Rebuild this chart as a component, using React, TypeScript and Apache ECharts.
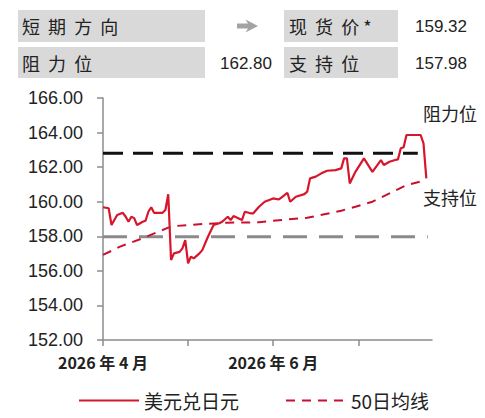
import React, { useEffect, useRef } from "react";
import * as echarts from "echarts";

// day offsets from 2026-04-01
const spotDays = [0, 2, 3, 4, 5, 7, 8, 9, 10, 11, 12, 14, 15, 16, 17, 18, 21, 22, 23, 24, 25, 27, 28, 29, 30, 31, 32, 34, 35, 37, 39, 41, 42, 44, 45, 46, 49, 50, 52, 53, 55, 57, 60, 62, 63, 65, 66, 68, 71, 72, 73, 75, 77, 79, 82, 84, 85, 86, 87, 89, 92, 95, 98, 99, 101, 103, 104, 105, 106, 107, 112, 113, 114];
const spotValues = [159.68, 159.62, 158.65, 158.94, 159.23, 159.36, 159.13, 158.84, 159.13, 159.05, 158.65, 158.84, 158.9, 159.42, 159.68, 159.36, 159.36, 159.52, 160.43, 156.63, 157.01, 157.1, 157.3, 157.78, 156.44, 156.82, 156.72, 157.01, 157.2, 157.97, 158.65, 158.75, 158.84, 159.13, 158.94, 159.17, 158.94, 159.42, 159.33, 159.33, 159.71, 160.0, 160.19, 160.13, 160.25, 160.52, 160.0, 160.29, 160.44, 160.58, 161.35, 161.45, 161.64, 161.79, 161.83, 161.93, 162.51, 162.51, 161.06, 161.73, 162.51, 161.73, 162.41, 162.12, 162.31, 162.41, 162.45, 163.09, 163.15, 163.86, 163.86, 163.38, 161.35];
const maDays = [0, 6, 14, 23, 26, 35, 44, 55, 60, 72, 84, 89, 95, 101, 107, 114];
const maValues = [156.92, 157.4, 157.89, 158.5, 158.6, 158.71, 158.79, 158.81, 158.9, 159.07, 159.48, 159.71, 160.0, 160.48, 160.96, 161.25];
const resistance = 162.8;
const support = 157.98;
const resistanceDays = [0, 111];
const supportDays = [0, 114.5];
const tickLabels: Record<number, string> = { 0: "2026 年 4 月", 60: "2026 年 6 月" };
const seriesNames = ["美元兑日元", "50日均线"];
const tableLabels = ["短  期  方  向", "现  货  价 *", "阻  力  位", "支  持  位"];
const spotText = "159.32";
const resistanceText = "162.80";
const supportText = "157.98";

const CJK = '"Noto Sans CJK SC", "Noto Sans", sans-serif';
const NUM = '"Liberation Sans", Arial, sans-serif';

export default function App() {
  const ref = useRef<HTMLDivElement>(null);
  useEffect(() => {
    if (!ref.current) return;
    const chart = echarts.init(ref.current, undefined, { renderer: "svg" });
    const gray = "#d9d9d9";
    chart.setOption({
      animation: false,
      backgroundColor: "#fff",
      grid: { left: 103, right: 53, top: 98, bottom: 78 },
      xAxis: {
        type: "value",
        min: 0,
        max: 116,
        interval: 30,
        axisLine: { lineStyle: { color: "#8c8c8c", width: 1.5 } },
        axisTick: { show: true, length: 6, lineStyle: { color: "#8c8c8c", width: 1.5 } },
        splitLine: { show: false },
        axisLabel: {
          showMaxLabel: false,
          margin: 14,
          fontFamily: CJK,
          fontSize: 16,
          fontWeight: "bold",
          color: "#222",
          formatter: (v: number) => tickLabels[v] || "",
        },
      },
      yAxis: {
        type: "value",
        min: 152,
        max: 166,
        interval: 2,
        axisLine: { show: true, lineStyle: { color: "#8c8c8c", width: 1.5 } },
        axisTick: { show: true, length: 6, lineStyle: { color: "#8c8c8c", width: 1.5 } },
        splitLine: { show: false },
        axisLabel: {
          margin: 20,
          fontFamily: NUM,
          fontSize: 18,
          color: "#222",
          formatter: (v: number) => v.toFixed(2),
        },
      },
      legend: {
        data: seriesNames,
        left: 73,
        top: 386,
        itemWidth: 60,
        itemHeight: 14,
        itemGap: 46,
        itemStyle: { opacity: 0 },
        textStyle: { fontFamily: CJK, fontSize: 19, color: "#222" },
      },
      series: [
        {
          name: "resistance",
          type: "line",
          symbol: "none",
          silent: true,
          data: resistanceDays.map((d) => [d, resistance]),
          lineStyle: { color: "#111", width: 3, type: [20, 10] },
          z: 1,
        },
        {
          name: "support",
          type: "line",
          symbol: "none",
          silent: true,
          data: supportDays.map((d) => [d, support]),
          lineStyle: { color: "#8a8a8a", width: 3, type: [24, 12] },
          z: 1,
        },
        {
          name: seriesNames[1],
          type: "line",
          symbol: "none",
          data: maDays.map((d, i) => [d, maValues[i]]),
          lineStyle: { color: "#c8102e", width: 2, type: [9, 7] },
          itemStyle: { color: "#c8102e" },
          z: 2,
        },
        {
          name: seriesNames[0],
          type: "line",
          symbol: "none",
          data: spotDays.map((d, i) => [d, spotValues[i]]),
          lineStyle: { color: "#d7152b", width: 2.2 },
          itemStyle: { color: "#d7152b" },
          z: 3,
        },
      ],
      graphic: [
        { type: "rect", shape: { x: 18, y: 10, width: 187, height: 32 }, style: { fill: gray } },
        { type: "rect", shape: { x: 284, y: 10, width: 114, height: 32 }, style: { fill: gray } },
        { type: "rect", shape: { x: 18, y: 47, width: 187, height: 31 }, style: { fill: gray } },
        { type: "rect", shape: { x: 284, y: 47, width: 114, height: 31 }, style: { fill: gray } },
        { type: "text", x: 22, y: 26, style: { text: tableLabels[0], fontFamily: CJK, fontSize: 18, fill: "#222", verticalAlign: "middle" } },
        { type: "text", x: 289, y: 26, style: { text: tableLabels[1], fontFamily: CJK, fontSize: 18, fill: "#222", verticalAlign: "middle" } },
        { type: "text", x: 22, y: 63, style: { text: tableLabels[2], fontFamily: CJK, fontSize: 18, fill: "#222", verticalAlign: "middle" } },
        { type: "text", x: 289, y: 63, style: { text: tableLabels[3], fontFamily: CJK, fontSize: 18, fill: "#222", verticalAlign: "middle" } },
        {
          type: "polygon",
          shape: { points: [[237, 23.5], [248, 23.5], [245.5, 19.5], [258, 26], [245.5, 32.5], [248, 28.5], [237, 28.5]] },
          style: { fill: "#a3a3a3" },
        },
        { type: "text", x: 467, y: 26, style: { text: spotText, fontFamily: NUM, fontSize: 17, fill: "#222", align: "right", verticalAlign: "middle" } },
        { type: "text", x: 272, y: 63, style: { text: resistanceText, fontFamily: NUM, fontSize: 17, fill: "#222", align: "right", verticalAlign: "middle" } },
        { type: "text", x: 467, y: 63, style: { text: supportText, fontFamily: NUM, fontSize: 17, fill: "#222", align: "right", verticalAlign: "middle" } },
        { type: "text", x: 423, y: 113, style: { text: "阻力位", fontFamily: CJK, fontSize: 18, fill: "#222", verticalAlign: "middle" } },
        { type: "text", x: 423, y: 197, style: { text: "支持位", fontFamily: CJK, fontSize: 18, fill: "#222", verticalAlign: "middle" } },
      ],
    });
    return () => chart.dispose();
  }, []);
  return (
    <div
      ref={ref}
      style={{ position: "fixed", left: 0, top: 0, width: 485, height: 418, background: "#fff" }}
    />
  );
}
